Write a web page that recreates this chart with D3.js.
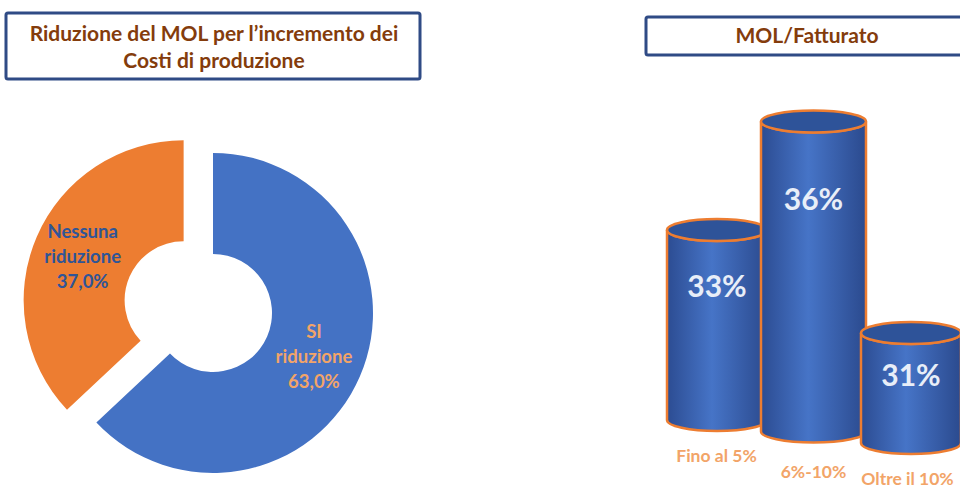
<!DOCTYPE html>
<html>
<head>
<meta charset="utf-8">
<script src="https://cdn.jsdelivr.net/npm/d3@7"></script>
<style>
  body { margin: 0; background: #fff; }
  text { font-family: Lato, "Open Sans", sans-serif; font-weight: bold; }
</style>
</head>
<body>
<div id="chart"></div>
<script>
// donut data
const pieLabels = [["SI", "riduzione"], ["Nessuna", "riduzione"]];
const pieValues = [63.0, 37.0];
const pieColors = ["#4472C4", "#ED7D31"];
const pieText = ["#F2A468", "#2F5597"];

// cylinder data
const barCats = ["Fino al 5%", "6%-10%", "Oltre il 10%"];
const barValues = [33, 36, 31];

const svg = d3.select('#chart').append('svg').attr('width', 960).attr('height', 488);

// title boxes
function titleBox(x, y, w, h, lines, cx, y0, dy) {
    svg.append('rect')
        .attr('x', x).attr('y', y).attr('width', w).attr('height', h)
        .attr('rx', 2)
        .attr('fill', '#fff').attr('stroke', '#2F4B85').attr('stroke-width', 3);
    lines.forEach((l, i) => {
        svg.append('text')
            .attr('x', cx).attr('y', y0 + i * dy)
            .attr('text-anchor', 'middle')
            .attr('font-size', 21)
            .attr('fill', '#843C0C')
            .text(l);
    });
}
titleBox(6, 13, 414, 66, ["Riduzione del MOL per l\u2019incremento dei", "Costi di produzione"], 214, 41, 27);
titleBox(646, 17, 330, 38, ["MOL/Fatturato"], 807, 43, 0);

// donut
const cx = 213, cy = 313, R = 160, r0 = 59;
const pie = d3.pie().sort(null).startAngle(0)(pieValues);
const arc = d3.arc().innerRadius(r0).outerRadius(R);
const explode = [0, 32];

const slices = svg.append('g').attr('transform', `translate(${cx},${cy})`)
    .selectAll('g').data(pie).join('g')
    .attr('transform', (d, i) => {
        const a = (d.startAngle + d.endAngle) / 2;
        return `translate(${Math.sin(a) * explode[i]},${-Math.cos(a) * explode[i]})`;
    });

slices.append('path')
    .attr('d', arc)
    .attr('fill', (d, i) => pieColors[i]);

slices.each(function(d, i) {
    const a = (d.startAngle + d.endAngle) / 2;
    const lr = 110;
    const t = d3.select(this).append('text')
        .attr('text-anchor', 'middle')
        .attr('font-size', 18.5)
        .attr('fill', pieText[i]);
    const lines = pieLabels[i].concat([d3.format('.1f')(d.data).replace('.', ',') + '%']);
    lines.forEach((l, j) => {
        t.append('tspan')
            .attr('x', Math.sin(a) * lr)
            .attr('y', -Math.cos(a) * lr + (j - 1) * 25 + 6)
            .text(l);
    });
});

// cylinders
const x = d3.scaleBand().domain(barCats).range([667, 958]).padding(0);
const h = d3.scaleLinear().domain([28.25, 36]).range([0, 310]);
const ry = 11;
const bw = x.bandwidth();

const defs = svg.append('defs');
const grad = defs.append('linearGradient').attr('id', 'cyl').attr('x1', '0%').attr('x2', '100%');
grad.append('stop').attr('offset', '0%').attr('stop-color', '#2C4C92');
grad.append('stop').attr('offset', '45%').attr('stop-color', '#4674C7');
grad.append('stop').attr('offset', '100%').attr('stop-color', '#2B4A8E');

const cyl = svg.append('g').selectAll('g').data(barValues).join('g');

cyl.each(function(v, i) {
    const g = d3.select(this);
    const x0 = x(barCats[i]) - (i === 1 ? 3 : 0);
    const w = bw + (i === 1 ? 8 : 3);
    const rx = w / 2;
    const base = 420 + 11.5 * i;
    const top = base - h(v);
    g.append('path')
        .attr('d', `M${x0},${top} L${x0},${base} A${rx},${ry} 0 0 0 ${x0 + w},${base} L${x0 + w},${top} A${rx},${ry} 0 0 1 ${x0},${top} Z`)
        .attr('fill', 'url(#cyl)')
        .attr('stroke', '#ED7D31').attr('stroke-width', 2.5);
    g.append('ellipse')
        .attr('cx', x0 + rx).attr('cy', top).attr('rx', rx).attr('ry', ry)
        .attr('fill', '#2E5399')
        .attr('stroke', '#ED7D31').attr('stroke-width', 2.5);
    g.append('text')
        .attr('x', x0 + rx).attr('y', top + 22 + h(v) * 0.18 + 11)
        .attr('text-anchor', 'middle')
        .attr('font-size', 30)
        .attr('fill', '#E8EEF8')
        .text(v + '%');
});

// category labels
const labelY = [462, 478, 485];
svg.append('g').selectAll('text').data(barCats).join('text')
    .attr('x', (d, i) => x(d) + bw / 2 + (i === 2 ? -2 : 1))
    .attr('y', (d, i) => labelY[i])
    .attr('text-anchor', 'middle')
    .attr('font-size', 17.5)
    .attr('fill', '#F2A468')
    .text(d => d);
</script>
</body>
</html>
